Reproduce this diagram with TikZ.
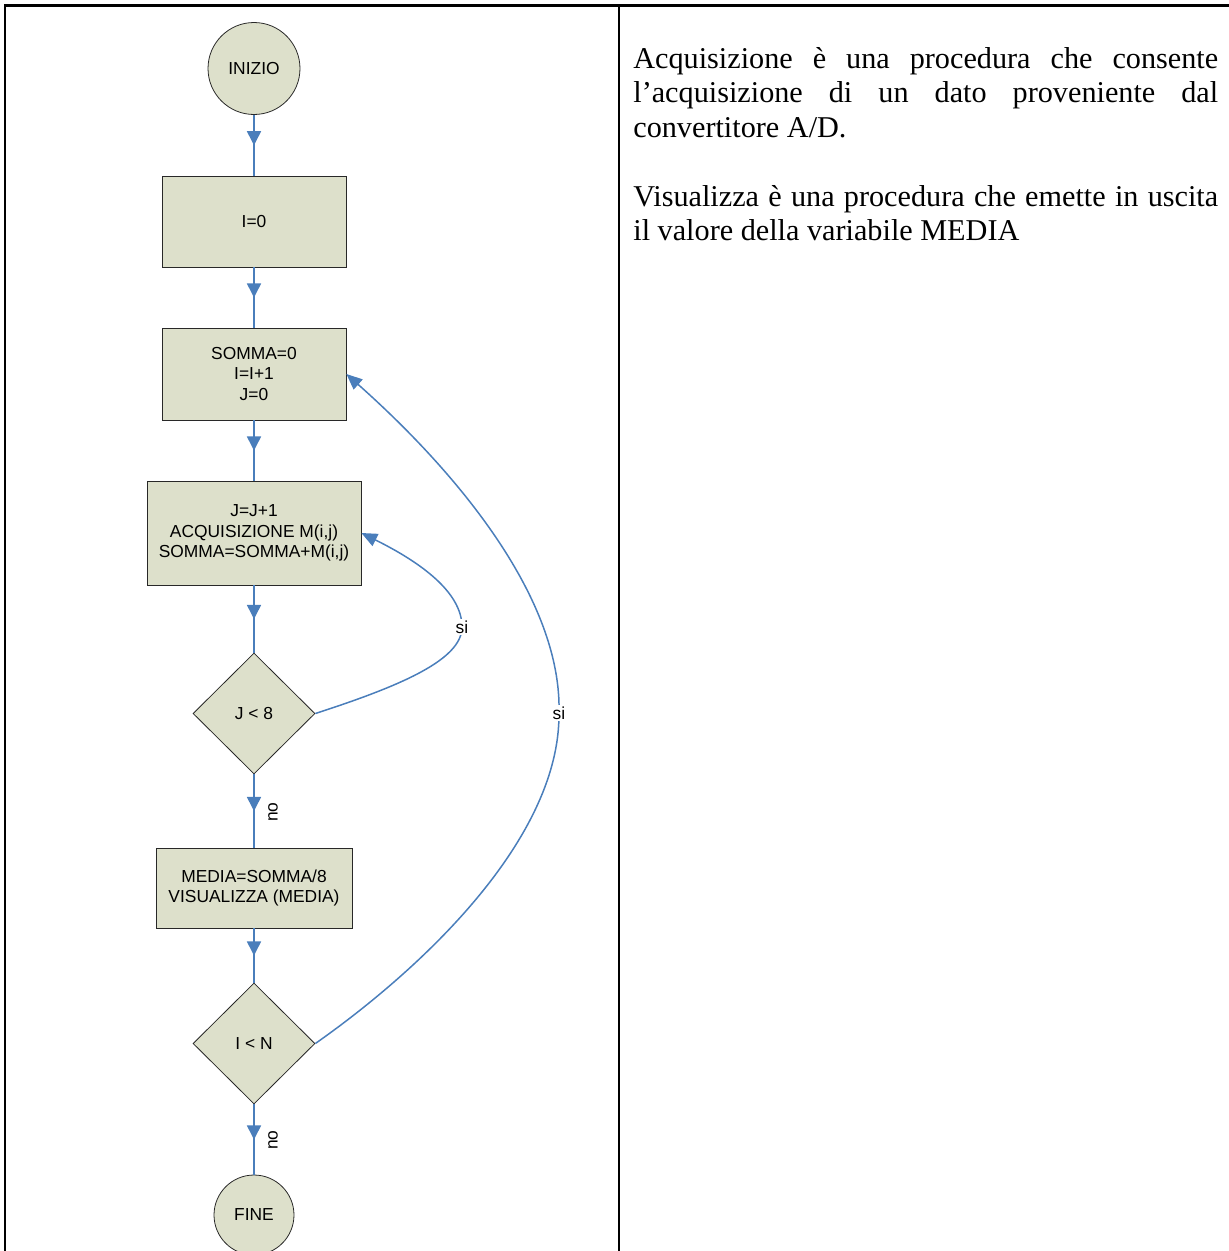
\documentclass[tikz,border=0pt]{standalone}
\usepackage{fontspec}
\setmainfont{Liberation Serif}
\newfontfamily\flowfont{Liberation Sans}
\usetikzlibrary{shapes.geometric,arrows.meta,decorations.markings}
\definecolor{lineblue}{RGB}{74,126,187}
\definecolor{boxfill}{RGB}{221,224,203}
\definecolor{edgegray}{RGB}{40,40,40}
\tikzset{
  shapebase/.style={draw=edgegray, line width=0.45pt, fill=boxfill, inner sep=0pt, align=center,
    font=\flowfont\fontsize{9.9pt}{11.6pt}\selectfont},
  termbox/.style={shapebase, circle},
  procbox/.style={shapebase, rectangle},
  testbox/.style={shapebase, diamond},
  flow/.style={draw=lineblue, line width=0.85pt, postaction={decorate},
    decoration={markings, mark=at position 0.5 with {\arrow[lineblue]{Triangle[length=8pt,width=8pt]}}}},
  loopback/.style={draw=lineblue, line width=0.85pt, -{Triangle[length=9pt,width=7.6pt]}},
  lbl/.style={font=\flowfont\fontsize{9.9pt}{11.6pt}\selectfont, inner sep=1pt},
  tabline/.style={line width=1.5pt, line cap=rect},
  bodytext/.style={anchor=base west, inner sep=0pt, font=\fontsize{17.2pt}{19.6pt}\selectfont}
}
\begin{document}
\begin{tikzpicture}[x=0.02cm, y=-0.02cm]
\useasboundingbox (0,0) rectangle (1228,1251);
% table rules
\coordinate (tl) at (5,5.5);
\coordinate (tr) at (1228,5.5);
\coordinate (tm) at (619,5.5);
\coordinate (bl) at (5,1251);
\coordinate (bm) at (619,1251);
\draw[tabline] (tr) -- (tl) -- (bl);
\draw[tabline] (tm) -- (bm);

% nodes
\node[termbox, minimum size=1.84cm] (start) at (254,68.5) {INIZIO};
\node[procbox, minimum width=3.68cm, minimum height=1.82cm] (i0) at (254,221.5) {I=0};
\node[procbox, minimum width=3.68cm, minimum height=1.84cm] (somma) at (254,374) {SOMMA=0\\I=I+1\\J=0};
\node[procbox, minimum width=4.28cm, minimum height=2.08cm] (acq) at (254,533) {J=J+1\\ACQUISIZIONE M(i,j)\\SOMMA=SOMMA+M(i,j)};
\node[testbox, minimum width=2.44cm, minimum height=2.42cm] (tj) at (254,713.5) {J < 8};
\node[procbox, minimum width=3.92cm, minimum height=1.6cm] (media) at (254,888) {MEDIA=SOMMA/8\\VISUALIZZA (MEDIA)};
\node[testbox, minimum width=2.44cm, minimum height=2.42cm] (ti) at (254,1043.5) {I < N};
\node[termbox, minimum size=1.6cm] (fine) at (254,1215) {FINE};

% straight connectors
\draw[flow] (start) -- (i0);
\draw[flow] (i0) -- (somma);
\draw[flow] (somma) -- (acq);
\draw[flow] (acq) -- (tj);
\draw[flow] (tj) -- (media);
\draw[flow] (media) -- (ti);
\draw[flow] (ti) -- (fine);

% loop connectors
\coordinate (s1) at (462,627);
\coordinate (s2) at (559,713);
\draw[loopback] (tj.east) .. controls (400,686) and (462,660) .. (s1)
  .. controls (462,592) and (420,562) .. (acq.east);
\draw[loopback] (ti.east) .. controls (420,970) and (560,840) .. (s2)
  .. controls (562,600) and (460,475) .. (somma.east);

% labels
\node[lbl, fill=white] (si1) at (s1) {si};
\node[lbl, fill=white] (si2) at (s2) {si};
\node[lbl, rotate=90] (no1) at (273,812) {no};
\node[lbl, rotate=90] (no2) at (273,1140) {no};

% right column text
\node[bodytext] (t1) at (633,68) {\makebox[11.7cm][s]{Acquisizione è una procedura che consente}};
\node[bodytext] (t2) at (633,102.5) {\makebox[11.7cm][s]{l’acquisizione di un dato proveniente dal}};
\node[bodytext] (t3) at (633,137) {convertitore A/D.};
\node[bodytext] (t4) at (633,206) {\makebox[11.7cm][s]{Visualizza è una procedura che emette in uscita}};
\node[bodytext] (t5) at (633,240) {il valore della variabile MEDIA};
\end{tikzpicture}
\end{document}
